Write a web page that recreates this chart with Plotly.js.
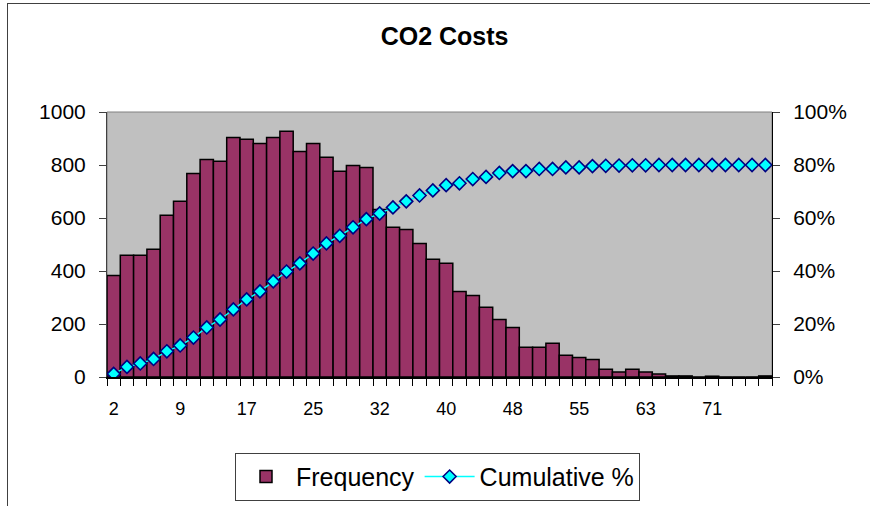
<!DOCTYPE html>
<html>
<head>
<meta charset="utf-8">
<script src="https://cdn.plot.ly/plotly-3.0.1.min.js"></script>
<style>
  html, body { margin: 0; padding: 0; background: #fff; overflow: hidden; }
  #wrap { position: relative; width: 870px; height: 506px; }
  #chart { position: absolute; left: 0; top: 0; width: 870px; height: 506px; }
  #frame { position: absolute; left: 7px; top: 3px; width: 900px; height: 600px;
           border-left: 1px solid #404040; border-top: 1px solid #404040; pointer-events: none; }
</style>
</head>
<body>
<div id="wrap">
  <div id="chart"></div>
  <div id="frame"></div>
</div>
<script>
// Bin categories (bin values as shown, truncated)
const categories = ["2","3","5","6","8","9","11","12","14","15",
                    "17","18","20","22","23","25","26","28","29","31",
                    "32","34","35","37","38","40","42","43","45","46",
                    "48","49","51","52","54","55","57","58","60","62",
                    "63","65","66","68","69","71","72","74","75","77"];
// Labels shown on the x axis (every 5th bin)
const tickLabels = ["2","9","17","25","32","40","48","55","63","71"];

// Frequency per bin
const frequency = [383,459,459,482,610,663,768,821,814,904,
                   897,881,904,927,851,881,829,776,798,791,
                   632,565,557,504,444,429,323,308,263,217,
                   187,112,112,127,82,74,66,29,19,29,
                   19,11,4,4,0,3,0,0,0,4];

// Cumulative % per bin
const cumulativePct = [1.2,3.8,5.1,6.8,9.7,11.9,14.9,18.7,21.7,25.5,
                       29.3,32.3,36.1,39.8,42.9,46.6,50.4,53.3,56.5,59.6,
                       61.7,64.0,66.3,68.5,70.4,72.4,73.1,74.7,75.5,77.0,
                       77.7,77.7,78.5,78.5,79.1,79.1,79.6,79.7,79.8,79.9,
                       79.9,80.0,80.0,80.0,80.0,80.0,80.0,80.0,80.0,80.0];

// Position of each bin on the category scale
const binPos = categories.map(function (c, i) { return i; });
const tickPos = tickLabels.map(function (t) { return categories.indexOf(t); });

const FONT = "Liberation Sans, Arial, sans-serif";

const traces = [
  {
    type: "bar",
    name: "Frequency",
    x: binPos,
    y: frequency,
    width: 1,
    marker: { color: "#993366", line: { color: "#000000", width: 1.5 } },
    text: categories,
    hoverinfo: "text+y",
    textposition: "none"
  },
  {
    type: "scatter",
    mode: "lines+markers",
    name: "Cumulative %",
    x: binPos,
    y: cumulativePct,
    yaxis: "y2",
    line: { color: "#00FFFF", width: 1.5 },
    marker: { symbol: "diamond", size: 10, color: "#00FFFF",
              line: { color: "#000080", width: 1.6 } }
  }
];

const layout = {
  width: 870,
  height: 506,
  margin: { l: 107, r: 98, t: 112, b: 129, pad: 0, autoexpand: false },
  paper_bgcolor: "rgba(0,0,0,0)",
  plot_bgcolor: "#C0C0C0",
  font: { family: FONT, color: "#000000" },
  bargap: 0,
  showlegend: true,
  title: {
    text: "<b>CO2 Costs</b>",
    font: { family: FONT, size: 25, color: "#000000" },
    xref: "container", x: 0.511, xanchor: "center",
    yref: "container", y: 0.929, yanchor: "middle"
  },
  xaxis: {
    type: "linear",
    range: [-0.5, categories.length - 0.5],
    tickmode: "array",
    tickvals: tickPos,
    ticktext: tickLabels,
    tickangle: 0,
    ticks: "outside",
    ticklen: 7,
    tickwidth: 1,
    tickcolor: "rgba(0,0,0,0)",
    minor: {
      tick0: 0.5,
      dtick: 1,
      ticks: "outside",
      ticklen: 7,
      tickwidth: 1,
      tickcolor: "#000000",
      showgrid: false
    },
    tickfont: { family: FONT, size: 18, color: "#000000" },
    ticklabelstandoff: 8,
    showline: true,
    linecolor: "#000000",
    linewidth: 1.5,
    showgrid: false,
    zeroline: false,
    fixedrange: true
  },
  yaxis: {
    range: [0, 1000],
    tickmode: "linear",
    tick0: 0,
    dtick: 200,
    ticks: "outside",
    ticklen: 7,
    tickwidth: 1,
    tickcolor: "#404040",
    tickfont: { family: FONT, size: 21, color: "#000000" },
    ticklabelstandoff: 9,
    showline: true,
    linecolor: "#404040",
    linewidth: 1,
    showgrid: false,
    zeroline: false,
    fixedrange: true
  },
  yaxis2: {
    overlaying: "y",
    side: "right",
    range: [0, 100],
    tickmode: "linear",
    tick0: 0,
    dtick: 20,
    ticksuffix: "%",
    ticks: "outside",
    ticklen: 7,
    tickwidth: 1,
    tickcolor: "#404040",
    tickfont: { family: FONT, size: 21, color: "#000000" },
    ticklabelstandoff: 9,
    showline: true,
    linecolor: "#000000",
    linewidth: 1,
    showgrid: false,
    zeroline: false,
    fixedrange: true
  },
  shapes: [
    { type: "rect", xref: "paper", yref: "paper", x0: 0, x1: 1, y0: 0, y1: 1,
      line: { color: "#808080", width: 1 }, layer: "below" }
  ],
  legend: {
    orientation: "h",
    xref: "paper", x: 0.497, xanchor: "center",
    yref: "paper", y: -0.286, yanchor: "top",
    bgcolor: "#FFFFFF",
    bordercolor: "#404040",
    borderwidth: 1,
    font: { family: FONT, size: 25, color: "#000000" },
    itemwidth: 50,
    traceorder: "normal"
  }
};

Plotly.newPlot("chart", traces, layout, { displayModeBar: false, staticPlot: true });
</script>
</body>
</html>
